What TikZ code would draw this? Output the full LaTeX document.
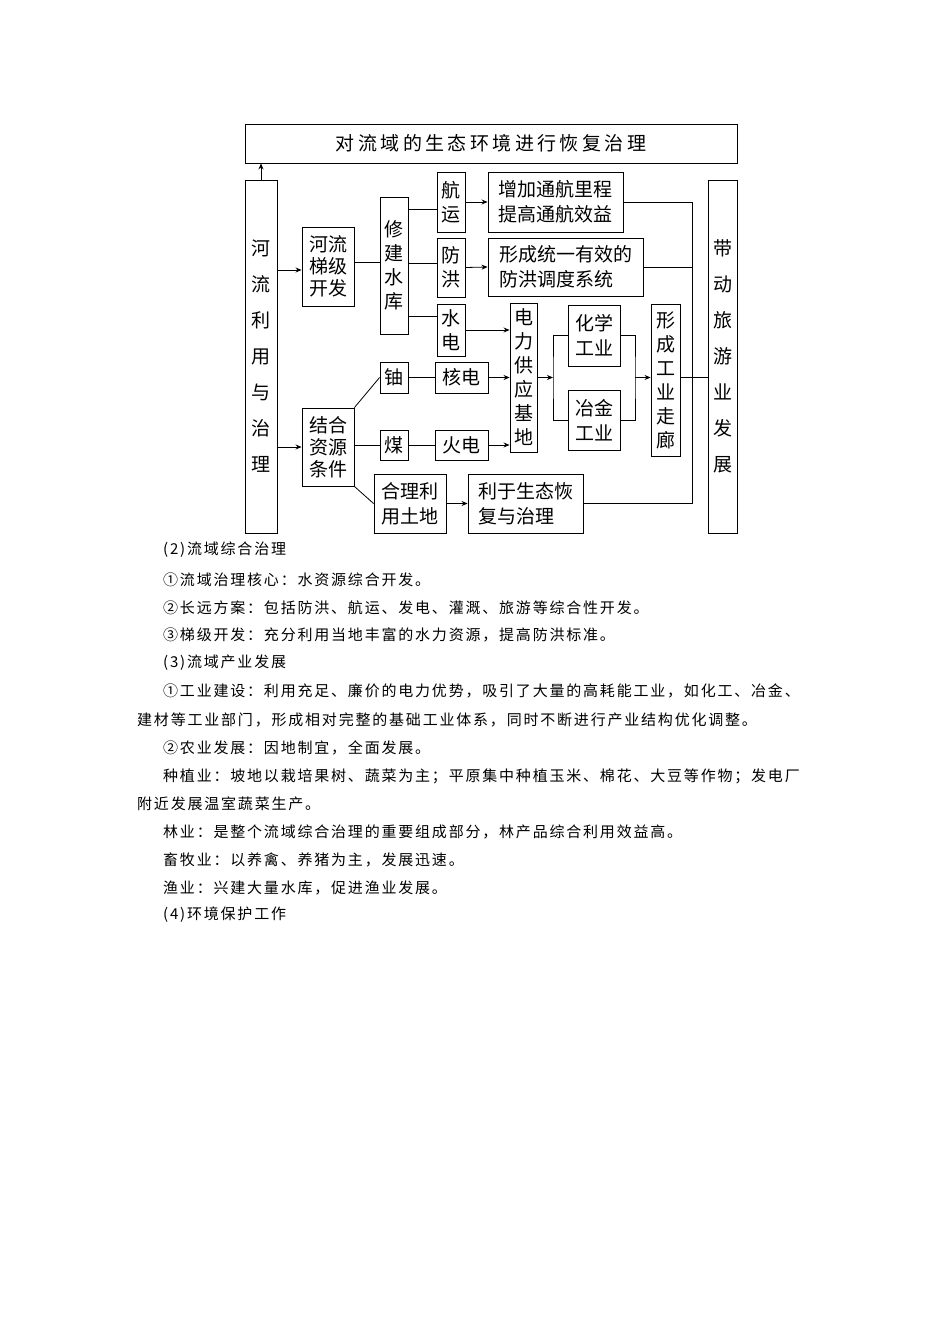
\documentclass[tikz,border=0pt]{standalone}
\usepackage{fontspec}
\setmainfont{Noto Sans CJK SC}
\newfontfamily\cjkbody[LetterSpace=12]{Noto Sans CJK SC}
\newfontfamily\cjkwide[LetterSpace=18]{Noto Sans CJK SC}
\usetikzlibrary{arrows.meta}
\tikzset{
  bx/.style={draw,line width=0.9pt,inner sep=0pt,align=center,font=\fontsize{19}{22}\selectfont},
  vt/.style={bx,font=\fontsize{19}{24}\selectfont},
  vtw/.style={bx,font=\fontsize{19}{36}\selectfont},
  ln/.style={line width=0.8pt},
  arr/.style={line width=0.8pt,-{Stealth[length=6pt,width=5pt]}},
  tx/.style={anchor=west,inner sep=0pt,font=\fontsize{15}{17}\cjkbody}
}
\begin{document}
\begin{tikzpicture}[x=1pt,y=-1pt]
\useasboundingbox[fill=white] (0,0) rectangle (950,1344);
\node[bx,minimum width=492,minimum height=39,font=\fontsize{19}{22}\cjkwide] (top) at (491,143.5) {对流域的生态环境进行恢复治理};
\node[vtw,minimum width=32,minimum height=353] (L) at (261,356.5) {河\\流\\利\\用\\与\\治\\理};
\node[bx,minimum width=52,minimum height=79] (tiji) at (328,266.5) {河流\\梯级\\开发};
\node[vt,minimum width=28,minimum height=137] (xiu) at (394,265.5) {修\\建\\水\\库};
\node[vt,minimum width=28,minimum height=60] (hang) at (451,202) {航\\运};
\node[bx,minimum width=135,minimum height=60,font=\fontsize{19}{25}\selectfont] (zeng) at (555.5,202) {增加通航里程\\提高通航效益};
\node[vt,minimum width=28,minimum height=59] (fang) at (451,267.5) {防\\洪};
\node[bx,minimum width=155,minimum height=58,align=left,font=\fontsize{19}{25}\selectfont] (xing) at (565.5,267) {形成统一有效的\\防洪调度系统};
\node[vt,minimum width=28,minimum height=52] (shui) at (451,330) {水\\电};
\node[vt,minimum width=27,minimum height=149] (dian) at (523.5,377.5) {电\\力\\供\\应\\基\\地};
\node[bx,minimum width=52,minimum height=61,font=\fontsize{19}{25}\selectfont] (hua) at (594,335.5) {化学\\工业};
\node[bx,minimum width=52,minimum height=60,font=\fontsize{19}{25}\selectfont] (ye) at (594,420) {冶金\\工业};
\node[vt,minimum width=29,minimum height=152] (zou) at (665.5,380) {形\\成\\工\\业\\走\\廊};
\node[vtw,minimum width=29,minimum height=353] (dai) at (722.5,356.5) {带\\动\\旅\\游\\业\\发\\展};
\node[bx,minimum width=28,minimum height=31] (you) at (394,377.5) {铀};
\node[bx,minimum width=53,minimum height=31] (he) at (461.5,377.5) {核电};
\node[bx,minimum width=28,minimum height=30] (mei) at (394,445) {煤};
\node[bx,minimum width=53,minimum height=30] (huo) at (461.5,445) {火电};
\node[bx,minimum width=52,minimum height=78] (jie) at (328,447) {结合\\资源\\条件};
\node[bx,minimum width=72,minimum height=59,font=\fontsize{19}{25}\selectfont] (heli) at (410,503.5) {合理利\\用土地};
\node[bx,minimum width=115,minimum height=59,align=left,font=\fontsize{19}{25}\selectfont] (liyu) at (525.5,503.5) {利于生态恢\\复与治理};
% connectors
\draw[arr] (L.north) -- (L.north|-top.south);
\draw[arr] (L.east|-0,270) -- (tiji.west|-0,270);
\draw[arr] (L.east|-jie.west) -- (jie.west);
\draw[ln] (tiji.east|-0,262) -- (xiu.west|-0,262);
\draw[ln] (xiu.east|-0,209) -- (hang.west|-0,209);
\draw[ln] (xiu.east|-0,263) -- (fang.west|-0,263);
\draw[ln] (xiu.east|-0,316) -- (shui.west|-0,316);
\draw[arr] (hang.east) -- (zeng.west);
\draw[arr] (fang.east) -- (xing.west);
\draw[arr] (shui.east) -- (dian.west|-shui.east);
\draw[ln] (you.east) -- (he.west);
\draw[arr] (he.east) -- (dian.west|-he.east);
\draw[ln] (mei.east) -- (huo.west);
\draw[arr] (huo.east) -- (dian.west|-huo.east);
\draw[ln] (jie.north east) -- (you.west);
\draw[ln] (jie.east|-mei.west) -- (mei.west);
\draw[ln] (jie.south east) -- (heli.west);
\draw[arr] (heli.east) -- (liyu.west);
\coordinate (bl) at (553,377.5);
\coordinate (br) at (635,377.5);
\draw[arr] (dian.east|-bl) -- (bl);
\draw[ln] (hua.west) -| (bl) |- (ye.west);
\draw[ln] (hua.east) -| (br) |- (ye.east);
\draw[arr] (br) -- (zou.west|-br);
\draw[ln] (zou.east|-br) -- (dai.west|-br);
\coordinate (c1) at (692,202);
\coordinate (c2) at (692,503.5);
\draw[ln] (zeng.east) -- (c1) -- (c2) -- (liyu.east);
\draw[ln] (xing.east) -- (xing.east-|c1);
% text
\node[tx] (t1) at (163,550) {(2)流域综合治理};
\node[tx] (t2) at (163,580) {①流域治理核心：水资源综合开发。};
\node[tx] (t3) at (163,608) {②长远方案：包括防洪、航运、发电、灌溉、旅游等综合性开发。};
\node[tx] (t4) at (163,635) {③梯级开发：充分利用当地丰富的水力资源，提高防洪标准。};
\node[tx] (t5) at (163,663) {(3)流域产业发展};
\node[tx] (t6) at (163,691) {①工业建设：利用充足、廉价的电力优势，吸引了大量的高耗能工业，如化工、冶金、};
\node[tx] (t7) at (137,720) {建材等工业部门，形成相对完整的基础工业体系，同时不断进行产业结构优化调整。};
\node[tx] (t8) at (163,748) {②农业发展：因地制宜，全面发展。};
\node[tx] (t9) at (163,776) {种植业：坡地以栽培果树、蔬菜为主；平原集中种植玉米、棉花、大豆等作物；发电厂};
\node[tx] (t10) at (137,804) {附近发展温室蔬菜生产。};
\node[tx] (t11) at (163,832) {林业：是整个流域综合治理的重要组成部分，林产品综合利用效益高。};
\node[tx] (t12) at (163,860) {畜牧业：以养禽、养猪为主，发展迅速。};
\node[tx] (t13) at (163,888) {渔业：兴建大量水库，促进渔业发展。};
\node[tx] (t14) at (163,915) {(4)环境保护工作};
\end{tikzpicture}
\end{document}
